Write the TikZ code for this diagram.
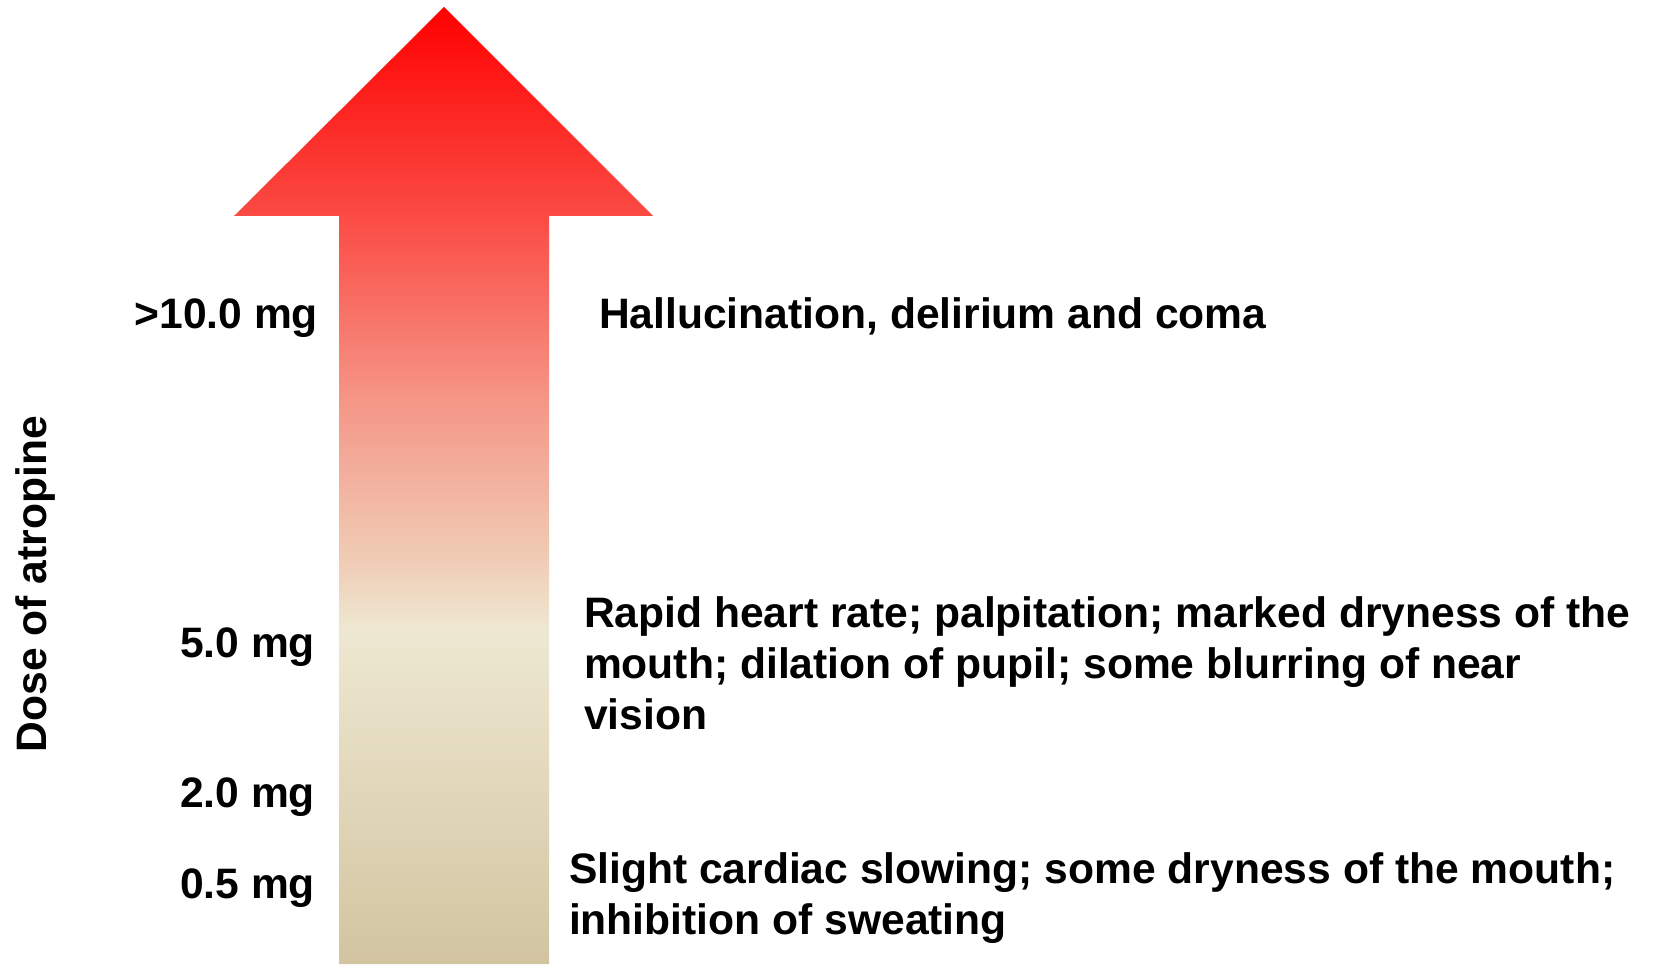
\documentclass[tikz,border=0pt]{standalone}
\usepackage{fontspec}
\setmainfont{Liberation Sans}
\pgfdeclareverticalshading{atroshade}{100bp}{%
  rgb(0bp)=(0.824,0.769,0.627);
  rgb(25bp)=(0.824,0.769,0.627);
  rgb(42.45bp)=(0.933,0.910,0.824);
  rgb(46.11bp)=(0.941,0.800,0.710);
  rgb(54.47bp)=(0.961,0.588,0.529);
  rgb(64.08bp)=(0.984,0.294,0.267);
  rgb(75bp)=(1,0,0);
  rgb(100bp)=(1,0,0)}
\tikzset{
  lbl/.style={inner sep=0pt, outer sep=0pt, font=\bfseries\fontsize{42.6}{50.6}\selectfont, text=black},
  dose/.style={lbl, anchor=base east},
  effect/.style={lbl, anchor=base west, align=left},
}
\begin{document}
\begin{tikzpicture}[x=1pt,y=1pt]
\useasboundingbox (0,0) rectangle (1653,964);
% arrow
\shade[shading=atroshade]
  (339,0) -- (339,748) -- (234,748) -- (444,957) -- (653,748) -- (549,748) -- (549,0) -- cycle;
% axis title
\node[lbl, rotate=90, anchor=base] (title) at (46,380) {Dose of atropine};
% dose labels
\node[dose] (d10) at (318,635) {>10.0 mg};
\node[dose] (d5) at (315,306) {5.0 mg};
\node[dose] (d2) at (315,157) {2.0 mg};
\node[dose] (d05) at (315,66) {0.5 mg};
% effects
\node[effect] (e10) at (599,635) {Hallucination, delirium and coma};
\node[effect] (e5) at (584,235) {Rapid heart rate; palpitation; marked dryness of the\\mouth; dilation of pupil; some blurring of near\\vision};
\node[effect] (e05) at (569,30) {Slight cardiac slowing; some dryness of the mouth;\\inhibition of sweating};
\end{tikzpicture}
\end{document}
